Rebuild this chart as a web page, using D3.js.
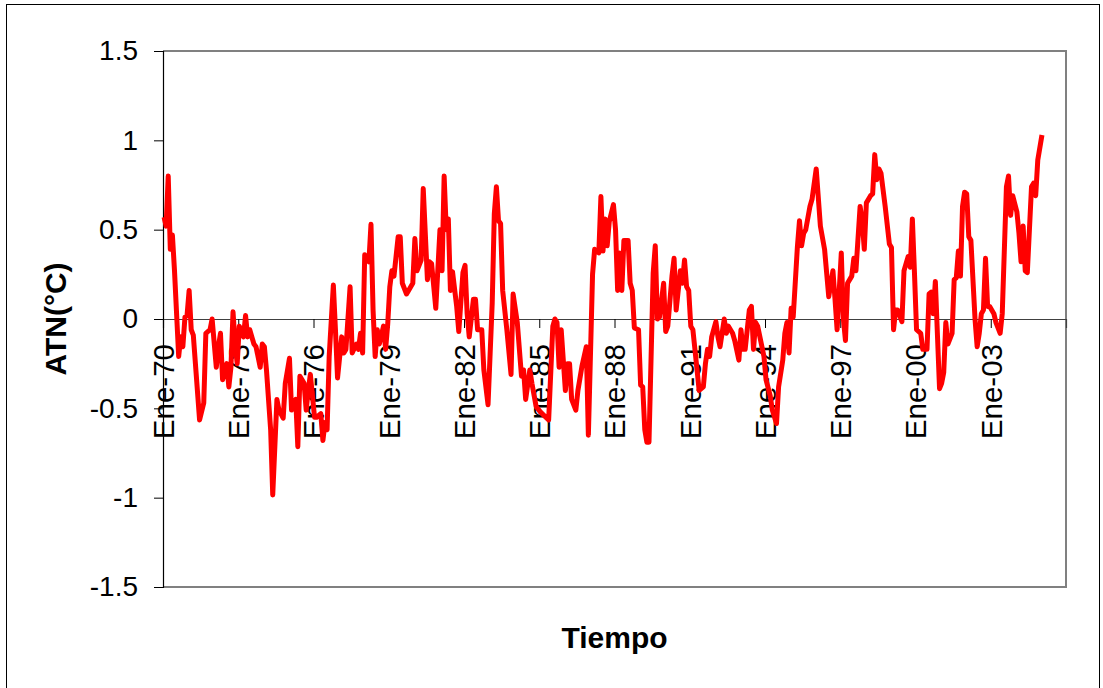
<!DOCTYPE html>
<html>
<head>
<meta charset="utf-8">
<script src="https://cdn.jsdelivr.net/npm/d3@7"></script>
<style>
  html, body { margin: 0; padding: 0; background: #fff; }
  svg { display: block; font-family: Arial, "Liberation Sans", sans-serif; }
</style>
</head>
<body>
<svg width="1103" height="688"></svg>
<script>
// meses contados desde Ene-70 (0 = enero 1970), lecturas [mes, ATN]
var lecturas70 = [
  [0,0.57],[1,0.52],[2,0.80],[3,0.39],[4,0.47],[5,0.27],[7,-0.21],[8,-0.10],[9,-0.155],[10,0.01],
  [11,0.02],[12,0.16],[13,-0.06],[14,-0.09],[17,-0.565],[19,-0.47],[20,-0.08],[22,-0.06],[23,0.0],
  [25,-0.27],[26,-0.155],[27,-0.08],[28,-0.34],[30,-0.25],[31,-0.38],[32,-0.27],[33,0.04],[34,-0.14],
  [35,-0.25],[36,-0.04],[38,-0.10],[39,0.02],[40,-0.10],[41,-0.06],[43,-0.14],[44,-0.155],[46,-0.27],
  [47,-0.14],[48,-0.155],[49,-0.285],[51,-0.62],[52,-0.985],[54,-0.45],[55,-0.51],[57,-0.555],
  [58,-0.36],[60,-0.22],[61,-0.51],[63,-0.45],[64,-0.715],[65,-0.32],[67,-0.36],[68,-0.51],[69,-0.40],
  [70,-0.31],[72,-0.55],[73,-0.55],[75,-0.53],[76,-0.68],[77,-0.58],[78,-0.62],[79,-0.21],[81,0.19],
  [82,-0.06],[83,-0.33],[85,-0.10],[86,-0.19],[87,-0.17],[89,0.18],[90,-0.19],[92,-0.14],[93,-0.17],
  [94,-0.08],[95,-0.19],[96,0.36],[98,0.32],[99,0.53],[100,0.05],[101,-0.21],[102,-0.06],[103,-0.14],
  [105,-0.04],[106,-0.17],[107,-0.03],[108,0.18],[109,0.27],[110,0.24],[112,0.46],[113,0.46],[114,0.20],
  [116,0.14],[117,0.16],[119,0.20]
];

var lecturas80 = [
  [120,0.45],[121,0.27],[123,0.33],[124,0.73],[126,0.22],[127,0.32],[128,0.31],[130,0.06],[132,0.50],
  [133,0.27],[134,0.80],[135,0.50],[136,0.56],[137,0.16],[138,0.265],[140,0.07],[141,-0.07],[143,0.26],
  [144,0.30],[145,0.03],[146,-0.10],[148,0.11],[149,0.11],[150,-0.06],[152,-0.06],[153,-0.285],
  [155,-0.48],[157,0.09],[158,0.59],[159,0.74],[160,0.55],[161,0.535],[162,0.16],[164,-0.06],[166,-0.31],
  [167,0.14],[169,-0.02],[171,-0.32],[172,-0.285],[173,-0.45],[175,-0.285],[176,-0.36],[178,-0.49],
  [180,-0.52],[184,-0.565],[186,-0.04],[187,0.0],[188,-0.02],[189,-0.27],[190,-0.06],[192,-0.40],
  [193,-0.25],[194,-0.25],[195,-0.45],[197,-0.51],[198,-0.40],[200,-0.26],[202,-0.155],[203,-0.65],
  [205,0.25],[206,0.39],[208,0.37],[209,0.685],[210,0.38],[211,0.56],[212,0.41],[213,0.545],[215,0.64],
  [216,0.50],[217,0.16],[218,0.37],[219,0.16],[220,0.44],[222,0.44],[223,0.20],[224,0.16],[225,-0.05],
  [227,-0.06],[228,-0.37],[229,-0.38],[230,-0.62],[231,-0.69],[232,-0.69],[234,0.256],[235,0.41],
  [236,0.0],[237,0.01],[239,0.20]
];

var lecturas90 = [
  [240,-0.07],[241,-0.04],[243,0.24],[244,0.34],[245,0.05],[247,0.27],[248,0.20],[249,0.33],[250,0.18],
  [251,0.16],[252,-0.04],[253,-0.06],[255,-0.285],[256,-0.40],[258,-0.38],[259,-0.25],[260,-0.17],
  [261,-0.21],[262,-0.10],[264,-0.015],[265,-0.10],[266,-0.155],[268,0.0],[269,-0.08],[270,-0.04],
  [272,-0.08],[273,-0.12],[275,-0.23],[276,-0.06],[277,-0.17],[278,-0.17],[280,0.05],[281,0.07],
  [282,-0.17],[283,-0.02],[284,-0.04],[287,-0.21],[288,-0.34],[290,-0.43],[291,-0.51],[293,-0.585],
  [294,-0.38],[296,-0.23],[297,-0.08],[298,-0.02],[299,-0.19],[300,0.06],[301,0.01],[303,0.405],
  [304,0.55],[305,0.41],[306,0.48],[307,0.50],[309,0.63],[310,0.67],[312,0.84],[314,0.52],[316,0.39],
  [318,0.125],[320,0.27],[321,0.11],[322,-0.06],[324,0.37],[325,0.0],[326,-0.12],[327,0.20],[329,0.24],
  [330,0.34],[331,0.27],[333,0.63],[334,0.55],[335,0.39],[336,0.65],[338,0.69],[339,0.70],[340,0.92],
  [341,0.78],[342,0.84],[343,0.815],[345,0.63],[347,0.42],[348,0.40],[349,-0.06],[350,0.05],[351,0.05],
  [353,-0.015],[354,0.27],[356,0.35],[357,0.29],[358,0.56],[359,0.26]
];

var lecturas00 = [
  [360,-0.06],[362,-0.08],[363,-0.17],[365,-0.17],[366,0.14],[367,0.15],[368,0.03],[369,0.21],
  [371,-0.39],[372,-0.36],[373,-0.30],[374,-0.02],[375,-0.14],[377,-0.08],[378,0.22],[379,0.23],
  [380,0.38],[381,0.24],[382,0.63],[383,0.71],[384,0.70],[385,0.46],[386,0.44],[388,-0.005],
  [389,-0.155],[390,-0.08],[391,0.03],[392,0.05],[393,0.34],[394,0.07],[395,0.07],[397,0.03],
  [398,-0.02],[400,-0.08],[401,0.03],[403,0.74],[404,0.80],[405,0.58],[406,0.69],[408,0.60],[409,0.48],
  [410,0.32],[411,0.52],[412,0.27],[413,0.26],[414,0.50],[415,0.74],[416,0.76],[417,0.69],[418,0.89],
  [420,1.03]
];

var totalMeses = 432;
var yTicks = [-1.5, -1, -0.5, 0, 0.5, 1, 1.5];
var xTickMeses = [0, 36, 72, 108, 144, 180, 216, 252, 288, 324, 360, 396];
var xTickLabels = ["Ene-70", "Ene-73", "Ene-76", "Ene-79", "Ene-82", "Ene-85",
                   "Ene-88", "Ene-91", "Ene-94", "Ene-97", "Ene-00", "Ene-03"];

var svg = d3.select("svg"),
    plotLeft = 163, plotRight = 1066, plotTop = 51, plotBottom = 587;

var x = d3.scaleLinear().domain([0, totalMeses]).range([plotLeft, plotRight]);
var y = d3.scaleLinear().domain([-1.5, 1.5]).range([plotBottom, plotTop]);

var datos = lecturas70.concat(lecturas80, lecturas90, lecturas00);

// marco exterior del grafico
svg.append("rect")
    .attr("x", 6.5).attr("y", 4.5)
    .attr("width", 1093).attr("height", 720)
    .attr("fill", "none").attr("stroke", "#000").attr("stroke-width", 1);

// area de trazado: borde gris arriba, derecha y abajo
svg.append("path")
    .attr("d", "M" + plotLeft + "," + plotTop + "H" + plotRight + "V" + plotBottom + "H" + plotLeft)
    .attr("fill", "none").attr("stroke", "#808080").attr("stroke-width", 2);

// eje y
var yAxis = svg.append("g")
    .attr("transform", "translate(" + plotLeft + ",0)")
    .call(d3.axisLeft(y).tickValues(yTicks).tickSize(9).tickPadding(16)
      .tickFormat(function(d) { return String(d); }));
yAxis.select(".domain").attr("stroke", "#000").attr("stroke-width", 1.2);
yAxis.selectAll(".tick line").attr("stroke", "#000");
yAxis.selectAll("text").attr("font-size", 28).attr("fill", "#000")
    .attr("font-family", "Arial, 'Liberation Sans', sans-serif");

// eje x sobre el cero
var xAxis = svg.append("g")
    .attr("transform", "translate(0," + y(0) + ")")
    .call(d3.axisBottom(x).tickValues(xTickMeses).tickSize(9)
      .tickFormat(function(d, i) { return xTickLabels[i]; }));
xAxis.select(".domain").attr("stroke", "#404040").attr("stroke-width", 1.2);
xAxis.selectAll(".tick line").attr("stroke", "#000");
xAxis.selectAll("text")
    .attr("font-size", 29.5).attr("fill", "#000")
    .attr("font-family", "Arial, 'Liberation Sans', sans-serif")
    .attr("text-anchor", "end")
    .attr("transform", "rotate(-90)")
    .attr("x", -25).attr("y", 0).attr("dy", "0.35em");

// serie ATN
var line = d3.line()
    .x(function(d) { return x(d[0] + 0.5); })
    .y(function(d) { return y(d[1]); });

svg.append("path")
    .datum(datos)
    .attr("d", line)
    .attr("fill", "none")
    .attr("stroke", "#ff0000")
    .attr("stroke-width", 5)
    .attr("stroke-linejoin", "round");

// titulos
svg.append("text")
    .attr("transform", "translate(66," + ((plotTop + plotBottom) / 2) + ") rotate(-90)")
    .attr("text-anchor", "middle")
    .attr("font-size", 30).attr("font-weight", "bold")
    .text("ATN(°C)");

svg.append("text")
    .attr("x", (plotLeft + plotRight) / 2).attr("y", 648)
    .attr("text-anchor", "middle")
    .attr("font-size", 30).attr("font-weight", "bold")
    .text("Tiempo");
</script>
</body>
</html>
